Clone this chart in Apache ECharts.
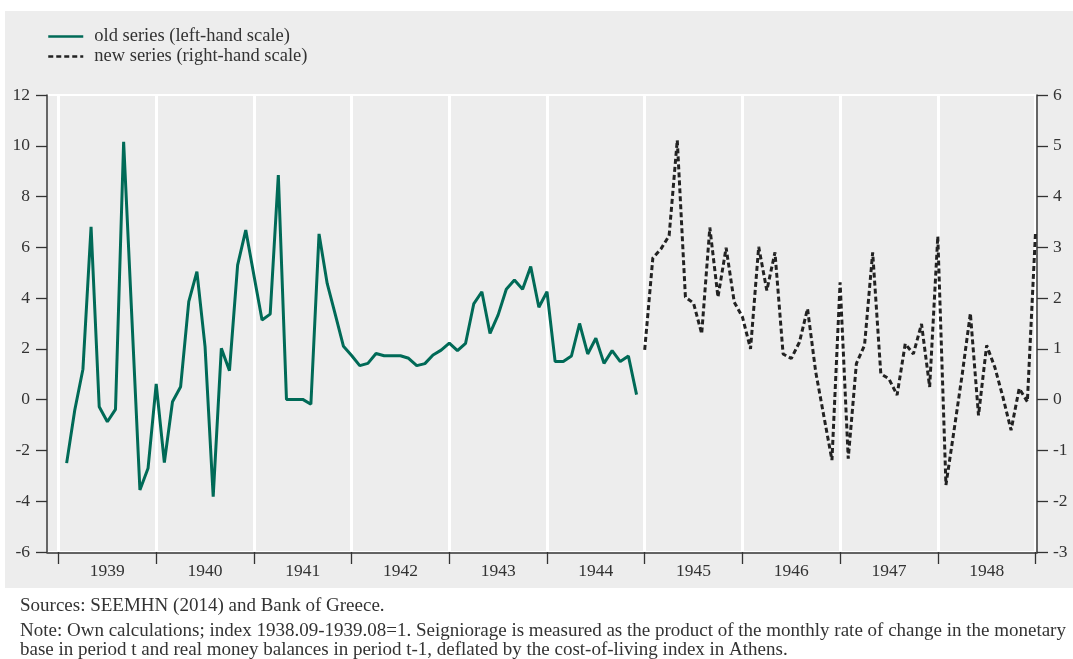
<!DOCTYPE html>
<html>
<head>
<meta charset="utf-8">
<script src="https://cdn.jsdelivr.net/npm/echarts@6/dist/echarts.min.js"></script>
<style>html,body{margin:0;padding:0;background:#fff;}#c{width:1073px;height:659px;}</style>
</head>
<body>
<div id="c"></div>
<script>
// Year labels (category ticks)
const years = ['1939','1940','1941','1942','1943','1944','1945','1946','1947','1948'];
// Month index (0 = Jan 1939) of first value of each series
const oldStart = 1;
const newStart = 72;
// Old series (left-hand scale), monthly
const oldValues = [
  -2.5, -0.41, 1.2, 6.81, -0.28, -0.87, -0.38, 10.16, 3.3, -3.56, -2.7,
  0.62, -2.48, -0.08, 0.51, 3.86, 5.04, 2.09, -3.82, 2.02, 1.14, 5.3, 6.68,
  4.9, 3.14, 3.37, 8.85, 0.01, 0.01, 0.01, -0.18, 6.53, 4.58, 3.35, 2.1,
  1.74, 1.34, 1.43, 1.82, 1.73, 1.73, 1.73, 1.63, 1.34, 1.42, 1.76, 1.95,
  2.23, 1.93, 2.22, 3.77, 4.25, 2.61, 3.34, 4.35, 4.71, 4.35, 5.24, 3.64,
  4.25, 1.5, 1.5, 1.72, 3.0, 1.8, 2.42, 1.43, 1.93, 1.5, 1.72, 0.2
];
// New series (right-hand scale), monthly
const newValues = [
  0.98, 2.79, 2.97, 3.23, 5.11, 2.02, 1.9, 1.3, 3.39, 2.02, 2.99, 1.92,
  1.63, 1.0, 3.01, 2.15, 2.9, 0.9, 0.81, 1.13, 1.79, 0.55, -0.32, -1.19,
  2.31, -1.16, 0.71, 1.07, 2.9, 0.51, 0.41, 0.09, 1.1, 0.9, 1.49, 0.25,
  3.22, -1.68, -0.6, 0.5, 1.7, -0.31, 1.07, 0.64, 0.05, -0.6, 0.22, -0.04,
  3.29
];
const leftTicks = {min: -6, max: 12, interval: 2};
const rightTicks = {min: -3, max: 6, interval: 1};
const sourceText = 'Sources: SEEMHN (2014) and Bank of Greece.';
const noteLine1 = 'Note: Own calculations; index 1938.09-1939.08=1. Seigniorage is measured as the product of the monthly rate of change in the monetary';
const noteLine2 = 'base in period t and real money balances in period t-1, deflated by the cost-of-living index in Athens.';

const FONT = '"Liberation Serif", "Times New Roman", serif';
const TXT = '#333';

const oldData = oldValues.map((v, i) => [oldStart + i, v]);
const newData = newValues.map((v, i) => [newStart + i, v]);

const chart = echarts.init(document.getElementById('c'), null, {renderer: 'canvas'});
chart.setOption({
  backgroundColor: '#fff',
  animation: false,
  textStyle: {fontFamily: FONT},
  graphic: [
    {type: 'rect', z: -10, silent: true, shape: {x: 5, y: 11, width: 1068, height: 577}, style: {fill: '#ededed'}},
    {type: 'text', style: {x: 20, y: 606, text: sourceText, font: '19px ' + FONT, fill: TXT, verticalAlign: 'middle'}},
    {type: 'text', style: {x: 20, y: 631, text: noteLine1, font: '19px ' + FONT, fill: TXT, verticalAlign: 'middle'}},
    {type: 'text', style: {x: 20, y: 650, text: noteLine2, font: '19px ' + FONT, fill: TXT, verticalAlign: 'middle'}}
  ],
  legend: {
    orient: 'vertical', left: 42, top: 22, itemWidth: 35, itemHeight: 14, itemGap: 1,
    itemStyle: {opacity: 0},
    lineStyle: {width: 2.5},
    textStyle: {fontFamily: FONT, fontSize: 18.5, color: TXT, padding: [0, 0, 0, 6]},
    data: ['old series (left-hand scale)', 'new series (right-hand scale)']
  },
  grid: [
    {left: 47, right: 36, top: 95, bottom: 107, show: true, borderColor: '#fff', borderWidth: 2, backgroundColor: 'transparent'},
    {left: 58.5, right: 37.5, top: 95, bottom: 107}
  ],
  xAxis: [
    {gridIndex: 0, type: 'value', min: 0, max: 1, offset: 1, position: 'bottom',
      axisLine: {show: true, onZero: false, lineStyle: {color: '#333', width: 1.5}},
      axisTick: {show: false}, axisLabel: {show: false}, splitLine: {show: false}},
    {gridIndex: 1, type: 'category', data: years, boundaryGap: true, position: 'bottom',
      axisLine: {show: false, onZero: false},
      axisTick: {show: true, length: 12, lineStyle: {color: '#333', width: 1.3}},
      axisLabel: {fontFamily: FONT, fontSize: 17.5, color: TXT, margin: 10},
      splitLine: {show: true, lineStyle: {color: '#fff', width: 3}}},
    {gridIndex: 1, type: 'value', min: 0, max: 120, show: false}
  ],
  yAxis: [
    {gridIndex: 0, type: 'value', position: 'left', min: leftTicks.min, max: leftTicks.max, interval: leftTicks.interval,
      axisLine: {show: true, onZero: false, lineStyle: {color: '#333', width: 1.5}},
      axisTick: {show: true, length: 11, lineStyle: {color: '#333', width: 1.3}},
      axisLabel: {fontFamily: FONT, fontSize: 17.5, color: TXT, margin: 17},
      splitLine: {show: false}},
    {gridIndex: 0, type: 'value', position: 'right', min: rightTicks.min, max: rightTicks.max, interval: rightTicks.interval,
      axisLine: {show: true, onZero: false, lineStyle: {color: '#333', width: 1.5}},
      axisTick: {show: true, length: 11, lineStyle: {color: '#333', width: 1.3}},
      axisLabel: {fontFamily: FONT, fontSize: 17.5, color: TXT, margin: 16},
      splitLine: {show: false}},
    {gridIndex: 1, type: 'value', min: leftTicks.min, max: leftTicks.max, show: false},
    {gridIndex: 1, type: 'value', min: rightTicks.min, max: rightTicks.max, show: false}
  ],
  series: [
    {name: 'old series (left-hand scale)', type: 'line', xAxisIndex: 2, yAxisIndex: 2,
      data: oldData, symbol: 'none', color: '#006a57',
      lineStyle: {color: '#006a57', width: 3}},
    {name: 'new series (right-hand scale)', type: 'line', xAxisIndex: 2, yAxisIndex: 3,
      data: newData, symbol: 'none', color: '#222',
      lineStyle: {color: '#222', width: 3, type: [5, 3]}}
  ]
});
</script>
</body>
</html>
